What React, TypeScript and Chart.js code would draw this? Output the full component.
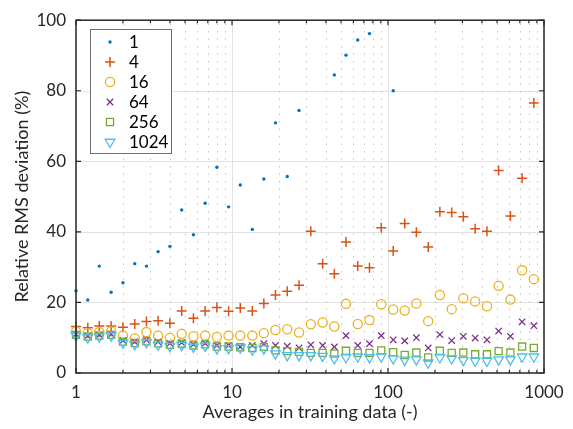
import React, { useEffect, useRef } from 'react';
import { Chart, registerables } from 'chart.js';

Chart.register(...registerables);

// ---- data ----
const averages = [1, 1.19, 1.41, 1.68, 2, 2.38, 2.83, 3.36, 4, 4.76, 5.66, 6.73, 8, 9.51, 11.3, 13.5, 16, 19, 22.6, 26.9, 32, 38.1, 45.3, 53.8, 64, 76.1, 90.5, 108, 128, 152, 181, 215, 256, 304, 362, 431, 512, 609, 724, 861];

const rms1 = [23.3, 20.7, 30.3, 22.9, 25.6, 31.0, 30.3, 34.4, 35.9, 46.2, 39.2, 48.1, 58.3, 47.1, 53.3, 40.7, 55.0, 70.9, 55.7, 74.4, null, null, 84.5, 90.1, 94.4, 96.2, null, 80.0, null, null, null, null, null, null, null, null, null, null, null, null];
const rms4 = [13.2, 12.8, 13.3, 13.3, 13.0, 13.9, 14.6, 14.8, 14.1, 17.6, 15.5, 17.6, 18.6, 17.5, 18.4, 17.6, 19.7, 22.1, 23.2, 24.9, 40.2, 31.0, 28.1, 37.1, 30.3, 29.8, 41.2, 34.6, 42.4, 39.9, 35.7, 45.7, 45.5, 44.3, 40.9, 40.2, 57.4, 44.5, 55.2, 76.5];
const rms16 = [11.8, 11.3, 11.6, 11.8, 10.6, 9.8, 11.6, 10.6, 9.9, 11.1, 10.4, 10.6, 10.2, 10.6, 10.6, 10.6, 11.3, 12.2, 12.4, 11.5, 13.8, 14.3, 13.2, 19.6, 13.9, 15.0, 19.5, 18.0, 17.7, 19.7, 14.7, 22.1, 18.1, 21.2, 20.3, 18.9, 24.7, 20.8, 29.1, 26.6];
const rms64 = [11.0, 10.5, 10.8, 11.0, 9.2, 8.8, 9.4, 8.8, 8.4, 8.6, 8.1, 8.4, 7.8, 7.8, 7.4, 7.8, 8.3, 7.8, 7.6, 7.1, 8.0, 7.8, 7.4, 10.6, 7.8, 8.3, 10.6, 9.4, 9.1, 10.0, 7.1, 10.9, 9.2, 10.4, 9.9, 9.4, 11.9, 10.4, 14.5, 13.4];
const rms256 = [10.8, 10.3, 10.6, 10.8, 8.9, 8.5, 9.0, 8.4, 8.0, 8.3, 7.8, 8.1, 7.5, 7.5, 7.3, 7.1, 7.4, 6.4, 6.2, 6.0, 5.7, 5.7, 5.5, 6.3, 5.7, 5.7, 6.4, 5.9, 5.1, 5.8, 4.4, 6.3, 5.7, 5.8, 5.3, 5.3, 6.2, 5.8, 7.5, 7.1];
const rms1024 = [10.6, 10.0, 10.3, 10.6, 8.5, 8.1, 8.7, 8.0, 7.6, 7.9, 7.4, 7.7, 7.0, 7.0, 7.2, 6.6, 6.9, 5.5, 5.0, 5.0, 5.0, 4.8, 4.1, 4.4, 4.6, 4.4, 4.6, 4.1, 3.7, 3.8, 2.9, 4.4, 4.1, 3.6, 3.4, 3.4, 3.8, 3.8, 4.6, 4.6];

const seriesLabels = ['1', '4', '16', '64', '256', '1024'];
const seriesValues = [rms1, rms4, rms16, rms64, rms256, rms1024];

const xTickValues = [1, 10, 100, 1000];
const xTickLabels = ['1', '10', '100', '1000'];
const yTickValues = [0, 20, 40, 60, 80, 100];

const xTitle = 'Averages in training data (-)';
const yTitle = 'Relative RMS deviation (%)';

// ---- styles ----
const FONT = 'Lato, "Open Sans", sans-serif';
const AXIS_COLOR = '#262626';

type MarkerStyle = {
  kind: 'dot' | 'plus' | 'circle' | 'x' | 'square' | 'tri';
  color: string;
  pointStyle: any;
  radius: number;
  rotation: number;
  fill: boolean;
  width: number;
};

const markerStyles: MarkerStyle[] = [
  { kind: 'dot', color: '#0072BD', pointStyle: 'circle', radius: 1.7, rotation: 0, fill: true, width: 0 },
  { kind: 'plus', color: '#D95319', pointStyle: 'cross', radius: 5, rotation: 0, fill: false, width: 1.5 },
  { kind: 'circle', color: '#EDB120', pointStyle: 'circle', radius: 4.6, rotation: 0, fill: false, width: 1.3 },
  { kind: 'x', color: '#7E2F8E', pointStyle: 'crossRot', radius: 4.5, rotation: 0, fill: false, width: 1.3 },
  { kind: 'square', color: '#77AC30', pointStyle: 'rect', radius: 5, rotation: 0, fill: false, width: 1.3 },
  { kind: 'tri', color: '#4DBEEE', pointStyle: 'triangle', radius: 5.5, rotation: 180, fill: false, width: 1.3 },
];

function drawLegendMarker(ctx: CanvasRenderingContext2D, m: MarkerStyle, x: number, y: number) {
  ctx.save();
  ctx.strokeStyle = m.color;
  ctx.fillStyle = m.color;
  ctx.lineWidth = m.width || 1;
  ctx.beginPath();
  const r = m.radius;
  switch (m.kind) {
    case 'dot':
      ctx.arc(x, y, r, 0, Math.PI * 2);
      ctx.fill();
      break;
    case 'plus':
      ctx.moveTo(x - r, y); ctx.lineTo(x + r, y);
      ctx.moveTo(x, y - r); ctx.lineTo(x, y + r);
      ctx.stroke();
      break;
    case 'circle':
      ctx.arc(x, y, r, 0, Math.PI * 2);
      ctx.stroke();
      break;
    case 'x': {
      const d = r * Math.SQRT1_2;
      ctx.moveTo(x - d, y - d); ctx.lineTo(x + d, y + d);
      ctx.moveTo(x - d, y + d); ctx.lineTo(x + d, y - d);
      ctx.stroke();
      break;
    }
    case 'square': {
      const s = r * Math.SQRT1_2;
      ctx.rect(x - s, y - s, 2 * s, 2 * s);
      ctx.stroke();
      break;
    }
    case 'tri': {
      let a = Math.PI; // rotation 180
      ctx.moveTo(x + Math.sin(a) * r, y - Math.cos(a) * r);
      a += (2 * Math.PI) / 3;
      ctx.lineTo(x + Math.sin(a) * r, y - Math.cos(a) * r);
      a += (2 * Math.PI) / 3;
      ctx.lineTo(x + Math.sin(a) * r, y - Math.cos(a) * r);
      ctx.closePath();
      ctx.stroke();
      break;
    }
  }
  ctx.restore();
}

const decorPlugin = {
  id: 'decor',
  beforeDatasetsDraw(chart: any) {
    const { ctx, chartArea } = chart;
    const { left, right, top, bottom } = chartArea;
    const xs = chart.scales.x;
    const ys = chart.scales.y;
    ctx.save();
    // solid light grid
    ctx.strokeStyle = '#e2e2e2';
    ctx.lineWidth = 1;
    ctx.beginPath();
    for (const v of yTickValues) {
      if (v === yTickValues[0] || v === yTickValues[yTickValues.length - 1]) continue;
      const py = Math.round(ys.getPixelForValue(v)) + 0.5;
      ctx.moveTo(left, py); ctx.lineTo(right, py);
    }
    for (const v of xTickValues) {
      if (v === xTickValues[0] || v === xTickValues[xTickValues.length - 1]) continue;
      const px = Math.round(xs.getPixelForValue(v)) + 0.5;
      ctx.moveTo(px, top); ctx.lineTo(px, bottom);
    }
    ctx.stroke();
    // dotted minor vertical grid
    ctx.strokeStyle = '#c4c4c4';
    ctx.setLineDash([1.5, 6]);
    ctx.beginPath();
    for (let d = 0; d < xTickValues.length - 1; d++) {
      for (let m = 2; m <= 9; m++) {
        const px = Math.round(xs.getPixelForValue(xTickValues[d] * m)) + 0.5;
        ctx.moveTo(px, bottom - 3); ctx.lineTo(px, top);
      }
    }
    ctx.stroke();
    ctx.restore();
  },
  afterDraw(chart: any) {
    const { ctx, chartArea } = chart;
    const { left, right, top, bottom } = chartArea;
    const xs = chart.scales.x;
    const ys = chart.scales.y;
    ctx.save();
    // axis box
    ctx.strokeStyle = AXIS_COLOR;
    ctx.lineWidth = 1.5;
    ctx.strokeRect(left, top, right - left, bottom - top);
    // ticks
    ctx.lineWidth = 1.2;
    ctx.beginPath();
    for (const v of yTickValues) {
      const py = ys.getPixelForValue(v);
      ctx.moveTo(left, py); ctx.lineTo(left + 5, py);
      ctx.moveTo(right, py); ctx.lineTo(right - 5, py);
    }
    for (const v of xTickValues) {
      const px = xs.getPixelForValue(v);
      ctx.moveTo(px, bottom); ctx.lineTo(px, bottom - 5);
      ctx.moveTo(px, top); ctx.lineTo(px, top + 5);
    }
    for (let d = 0; d < xTickValues.length - 1; d++) {
      for (let m = 2; m <= 9; m++) {
        const px = xs.getPixelForValue(xTickValues[d] * m);
        ctx.moveTo(px, bottom); ctx.lineTo(px, bottom - 3);
        ctx.moveTo(px, top); ctx.lineTo(px, top + 3);
      }
    }
    ctx.stroke();

    // axis titles
    ctx.fillStyle = AXIS_COLOR;
    ctx.font = `18px ${FONT}`;
    ctx.textAlign = 'center';
    ctx.textBaseline = 'middle';
    ctx.fillText(xTitle, (left + right) / 2, 412);
    ctx.save();
    ctx.translate(22, (top + bottom) / 2);
    ctx.rotate(-Math.PI / 2);
    ctx.fillText(yTitle, 0, 0);
    ctx.restore();

    // legend
    const bx = 90, by = 29, bw = 81, bh = 124;
    ctx.fillStyle = '#ffffff';
    ctx.fillRect(bx, by, bw, bh);
    ctx.strokeStyle = '#6e6e6e';
    ctx.lineWidth = 1;
    ctx.strokeRect(bx + 0.5, by + 0.5, bw, bh);
    ctx.font = `17px ${FONT}`;
    ctx.textAlign = 'left';
    ctx.textBaseline = 'middle';
    for (let i = 0; i < seriesLabels.length; i++) {
      const ry = 42 + i * 20;
      drawLegendMarker(ctx, markerStyles[i], 110, ry);
      ctx.fillStyle = '#000000';
      ctx.fillText(seriesLabels[i], 129, ry + 1);
    }
    ctx.restore();
  },
};

export default function App() {
  const canvasRef = useRef<HTMLCanvasElement | null>(null);

  useEffect(() => {
    const canvas = canvasRef.current;
    if (!canvas) return;
    const datasets = seriesLabels.map((label, i) => {
      const m = markerStyles[i];
      const vals = seriesValues[i];
      const data = averages
        .map((a, k) => ({ x: a, y: vals[k] }))
        .filter((p) => p.y !== null && p.y !== undefined);
      return {
        label,
        data,
        showLine: false,
        clip: false as any,
        order: seriesLabels.length - i,
        pointStyle: m.pointStyle,
        pointRadius: m.radius,
        pointHoverRadius: m.radius,
        pointRotation: m.rotation,
        pointBorderWidth: m.width,
        borderColor: m.color,
        backgroundColor: m.fill ? m.color : 'rgba(0,0,0,0)',
        pointBackgroundColor: m.fill ? m.color : 'rgba(0,0,0,0)',
        pointBorderColor: m.color,
      };
    });

    const chart = new Chart(canvas, {
      type: 'scatter',
      data: { datasets },
      options: {
        animation: false,
        responsive: false,
        maintainAspectRatio: false,
        devicePixelRatio: 1,
        layout: { padding: { left: 0, top: 16, right: 29, bottom: 0 } },
        plugins: {
          legend: { display: false },
          tooltip: { enabled: false },
          title: { display: false },
        },
        scales: {
          x: {
            type: 'logarithmic',
            min: 1,
            max: 1000,
            grid: { display: false, drawTicks: false },
            border: { display: false },
            afterBuildTicks: (scale: any) => {
              scale.ticks = xTickValues.map((v) => ({ value: v }));
            },
            afterFit: (scale: any) => {
              scale.height = 56;
            },
            ticks: {
              autoSkip: false,
              maxRotation: 0,
              padding: 9,
              color: AXIS_COLOR,
              font: { family: FONT, size: 17 },
              callback: (value: any) => {
                const idx = xTickValues.indexOf(Number(value));
                return idx >= 0 ? xTickLabels[idx] : '';
              },
            },
          },
          y: {
            type: 'linear',
            min: 0,
            max: 100,
            grid: { display: false, drawTicks: false },
            border: { display: false },
            afterBuildTicks: (scale: any) => {
              scale.ticks = yTickValues.map((v) => ({ value: v }));
            },
            afterFit: (scale: any) => {
              scale.width = 76;
            },
            ticks: {
              padding: 10,
              color: AXIS_COLOR,
              font: { family: FONT, size: 17 },
              callback: (value: any) => String(value),
            },
          },
        },
      },
      plugins: [decorPlugin],
    });
    return () => chart.destroy();
  }, []);

  return (
    <div style={{ position: 'fixed', left: 0, top: 0, width: 573, height: 429, background: '#ffffff' }}>
      <canvas ref={canvasRef} width={573} height={429} style={{ width: 573, height: 429, display: 'block' }} />
    </div>
  );
}
